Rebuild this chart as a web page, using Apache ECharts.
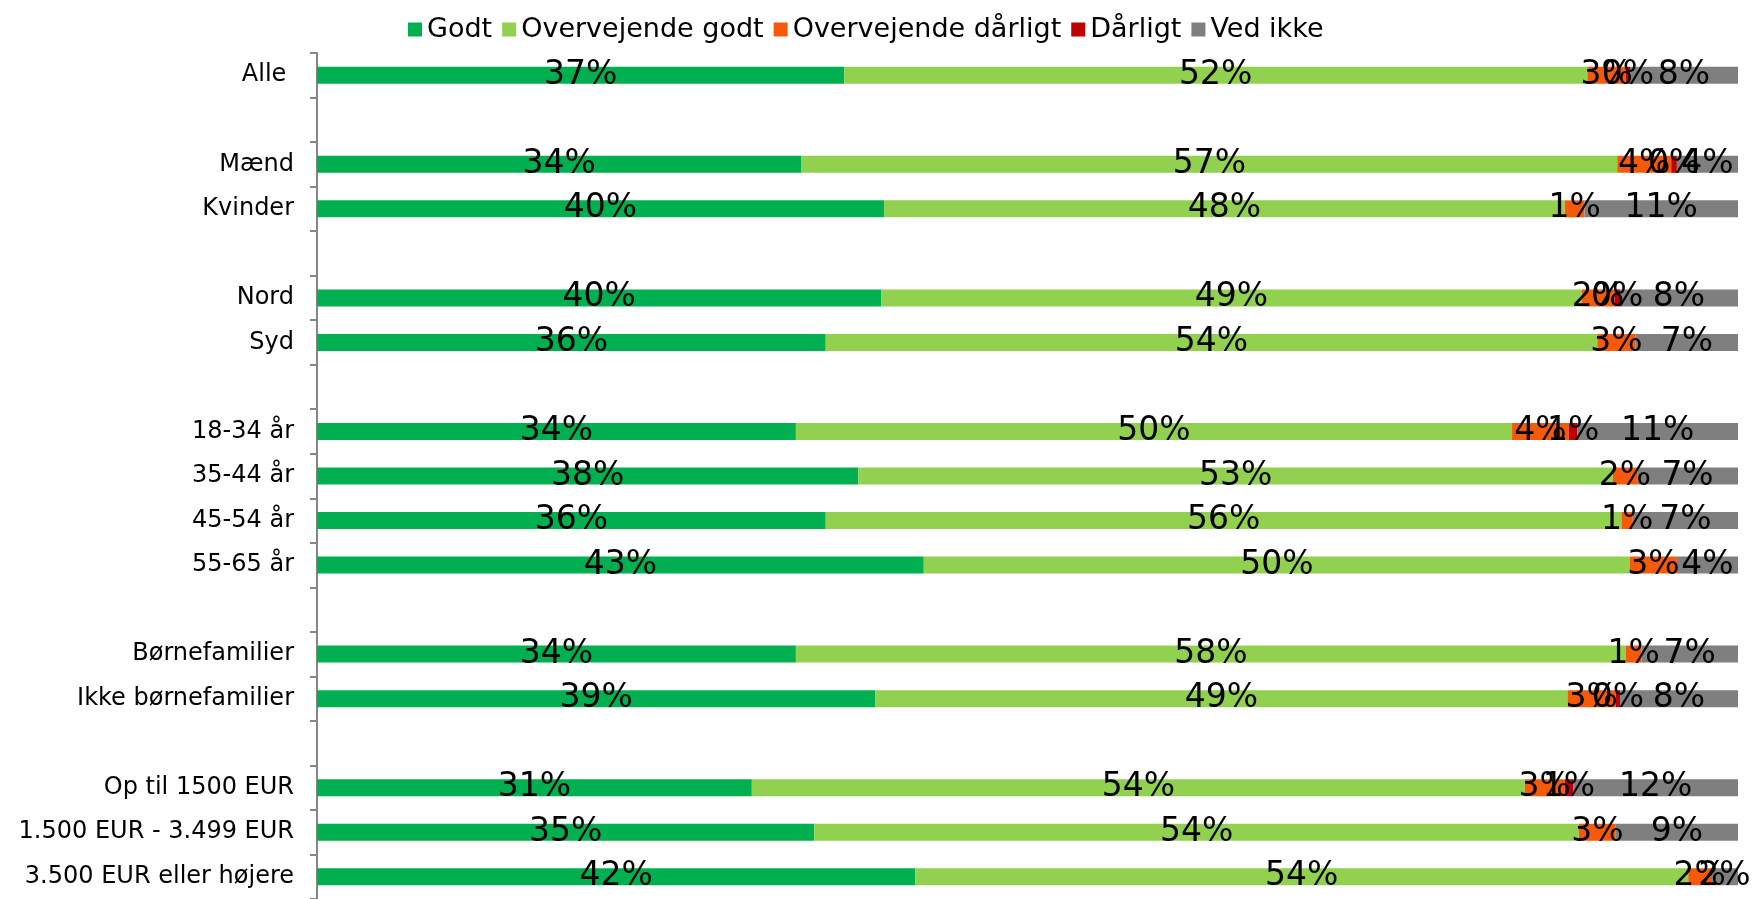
<!DOCTYPE html>
<html><head><meta charset="utf-8">
<script src="https://cdn.jsdelivr.net/npm/echarts@6/dist/echarts.min.js"></script>
<style>html,body{margin:0;padding:0;background:#fff}#c{width:1754px;height:899px}</style>
</head><body><div id="c"></div>
<script>
const categories = ['Alle ',' ','Mænd','Kvinder','  ','Nord','Syd','   ','18-34 år','35-44 år','45-54 år','55-65 år','    ','Børnefamilier','Ikke børnefamilier','     ','Op til 1500 EUR','1.500 EUR - 3.499 EUR','3.500 EUR eller højere'];
const seriesNames = ['Godt','Overvejende godt','Overvejende dårligt','Dårligt','Ved ikke'];
const godt        = [37.1,null,34.1,39.9,null,39.7,35.8,null,33.7,38.1,35.8,42.7,null,33.7,39.3,null,30.6,35.0,42.1];
const overvGodt   = [52.3,null,57.4,47.9,null,49.3,54.3,null,50.4,53.1,56.0,49.7,null,58.4,48.7,null,54.4,53.8,54.4];
const overvDaarl  = [2.7,null,3.8,1.4,null,2.3,2.7,null,4.0,1.7,0.8,3.3,null,1.1,3.4,null,2.8,2.6,1.6];
const daarligt    = [0.3,null,0.4,0,null,0.4,0,null,0.6,0,0,0,null,0,0.3,null,0.6,0,0];
const vedIkke     = [7.6,null,4.3,10.8,null,8.3,7.2,null,11.3,7.1,7.4,4.3,null,6.8,8.3,null,11.6,8.6,1.9];
const colors = ['#00B050','#92D050','#F55A0A','#C00000','#7F7F7F'];
const values = [godt, overvGodt, overvDaarl, daarligt, vedIkke];

const chart = echarts.init(document.getElementById('c'), null, {renderer:'canvas'});
chart.setOption({
  animation:false,
  legend:{
    left:403, top:11, itemWidth:14, itemHeight:14, itemGap:10,
    icon:'rect',
    textStyle:{fontFamily:'DejaVu Sans', fontSize:27, color:'#000'},
    data:seriesNames
  },
  grid:{left:317, right:16, top:53, height:850, containLabel:false},
  xAxis:{type:'value', min:0, max:100, show:false},
  yAxis:{
    type:'category', inverse:true, data:categories,
    axisLine:{show:true, lineStyle:{color:'#868686', width:2}},
    axisTick:{show:true, length:7, lineStyle:{color:'#868686', width:2}},
    axisLabel:{margin:23, color:'#000', fontFamily:'DejaVu Sans', fontSize:24}
  },
  series: seriesNames.map((n,i)=>({
    name:n, type:'bar', stack:'all', barWidth:17,
    itemStyle:{color:colors[i]},
    label:{show:true, position:'inside', color:'#000', fontFamily:'DejaVu Sans', fontSize:33,
      formatter:p=> (p.value===null||p.value===0)?'':Math.round(p.value)+'%'},
    data: values[i]
  }))
});
</script></body></html>
